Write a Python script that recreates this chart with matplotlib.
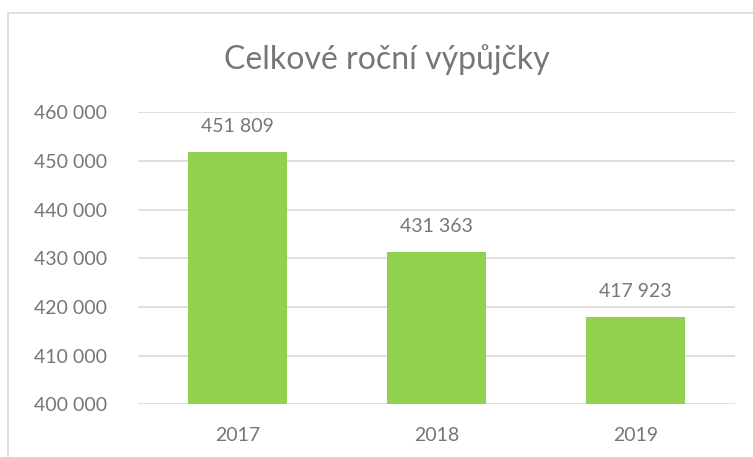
import matplotlib
matplotlib.use('Agg')
import matplotlib.pyplot as plt
from matplotlib.patches import Rectangle
from matplotlib.ticker import FuncFormatter

# data
years = ['2017', '2018', '2019']
loans = [451809, 431363, 417923]
y_ticks = [400000, 410000, 420000, 430000, 440000, 450000, 460000]
title = 'Celkové roční výpůjčky'

plt.rcParams['font.family'] = ['Lato', 'DejaVu Sans']
text_color = '#767676'
grid_color = '#d9d9d9'
bar_color = '#92d050'


def fmt_space(v, pos=None):
    # 451809 -> "451 809"
    return f"{int(round(v)):,}".replace(',', ' ')


fig = plt.figure(figsize=(7.53, 4.57), dpi=100)
ax = fig.add_axes([0.1833, 0.1149, 0.7928, 0.6400])

# rámeček grafu (vpravo a dole oříznutý)
fig.patches.append(Rectangle((8 / 753, -0.1), 1.2, 1 - 13 / 457 + 0.1,
                             transform=fig.transFigure, fill=False,
                             edgecolor=grid_color, linewidth=1.2))

x = range(len(years))
bars = ax.bar(x, loans, width=0.5, color=bar_color, zorder=2)

ax.set_xlim(-0.5, len(years) - 0.5)
ax.set_ylim(y_ticks[0], y_ticks[-1])
ax.set_yticks(y_ticks)
ax.yaxis.set_major_formatter(FuncFormatter(fmt_space))
ax.set_xticks(list(x))
ax.set_xticklabels(years)

ax.grid(axis='y', color=grid_color, linewidth=1.2, zorder=0)
ax.set_axisbelow(True)
for s in ax.spines.values():
    s.set_visible(False)
ax.tick_params(axis='both', length=0, labelsize=14, colors=text_color)
ax.tick_params(axis='y', pad=22)
ax.tick_params(axis='x', pad=16.5)

for b, v in zip(bars, loans):
    ax.annotate(fmt_space(v), (b.get_x() + b.get_width() / 2, v),
                xytext=(0, 12), textcoords='offset points',
                ha='center', va='bottom', fontsize=14, color=text_color)

fig.text(387 / 753, 1 - 60 / 457, title, ha='center', va='center',
         fontsize=23, color=text_color)

fig.savefig('out.png', dpi=100)
